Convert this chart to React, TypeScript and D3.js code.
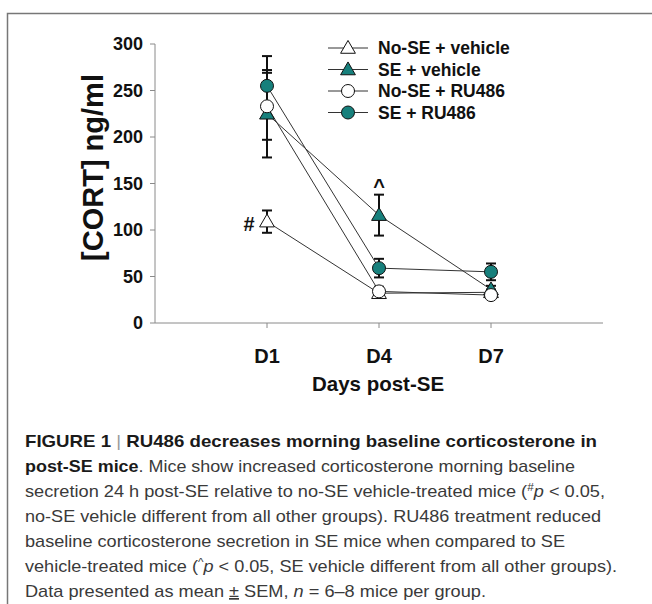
import React from "react";
import * as d3 from "d3";

const days = ["D1", "D4", "D7"];
const yTicks = [0, 50, 100, 150, 200, 250, 300];

const seriesNames = ["No-SE + vehicle", "SE + vehicle", "No-SE + RU486", "SE + RU486"];
const noSeVehicle = [109, 32, 33];
const noSeVehicleErr = [12, 3, 3];
const seVehicle = [225, 116, 36];
const seVehicleErr = [47, 22, 4];
const noSeRu = [233, 34, 30];
const noSeRuErr = [36, 5, 3];
const seRu = [255, 59, 55];
const seRuErr = [32, 10, 9];

const captionLines = [
  [{ t: "FIGURE 1 ", b: true }, { t: "|", b: false, c: "#999" }, { t: " RU486 decreases morning baseline corticosterone in", b: true }],
  [{ t: "post-SE mice", b: true }, { t: ". Mice show increased corticosterone morning baseline", b: false }],
  [{ t: "secretion 24 h post-SE relative to no-SE vehicle-treated mice (", b: false }, { t: "#", b: false, sup: true }, { t: "p", b: false, i: true, back: true }, { t: " < 0.05,", b: false }],
  [{ t: "no-SE vehicle different from all other groups). RU486 treatment reduced", b: false }],
  [{ t: "baseline corticosterone secretion in SE mice when compared to SE", b: false }],
  [{ t: "vehicle-treated mice (", b: false }, { t: "^", b: false, sup: true }, { t: "p", b: false, i: true, back: true }, { t: " < 0.05, SE vehicle different from all other groups).", b: false }],
  [{ t: "Data presented as mean ", b: false }, { t: "±", b: false, u: true }, { t: " SEM, ", b: false }, { t: "n", b: false, i: true }, { t: " = 6–8 mice per group.", b: false }],
];
const captionWidths = [572, 550, 580, 576, 540, 592, 461];

const TEAL = "#17807c";

export default function App() {
  const x = d3.scalePoint<string>().domain(days).range([155, 603]).padding(1);
  const y = d3.scaleLinear().domain([0, 300]).range([323, 44]);
  const font = "'Liberation Sans', Arial, sans-serif";

  const series = [
    { name: seriesNames[0], vals: noSeVehicle, err: noSeVehicleErr, shape: "tri", fill: "#fff" },
    { name: seriesNames[1], vals: seVehicle, err: seVehicleErr, shape: "tri", fill: TEAL },
    { name: seriesNames[2], vals: noSeRu, err: noSeRuErr, shape: "circ", fill: "#fff" },
    { name: seriesNames[3], vals: seRu, err: seRuErr, shape: "circ", fill: TEAL },
  ];

  const line = d3
    .line<number>()
    .x((_, i) => x(days[i]) as number)
    .y((d) => y(d));

  const marker = (shape: string, fill: string, cx: number, cy: number, key: string) =>
    shape === "circ" ? (
      <circle key={key} cx={cx} cy={cy} r={6.5} fill={fill} stroke="#111" strokeWidth={1} />
    ) : (
      <path
        key={key}
        d={d3.symbol().type(d3.symbolTriangle).size(95)() as string}
        transform={`translate(${cx},${cy + 1})`}
        fill={fill}
        stroke="#111"
        strokeWidth={1}
      />
    );

  const legendY = (i: number) => 48 + i * 21.5;

  return (
    <svg width={652} height={604} style={{ position: "absolute", left: 0, top: 0 }}>
      <rect x={0} y={0} width={652} height={604} fill="#fff" />
      {/* border */}
      <path d="M7.5,604 L7.5,13.5 L652,13.5" fill="none" stroke="#777" strokeWidth={1.5} />

      {/* axes */}
      <g stroke="#8a8a8a" strokeWidth={1} fill="none">
        <line x1={155} x2={155} y1={y(300)} y2={y(0)} />
        <line x1={155} x2={603} y1={y(0)} y2={y(0)} />
        {yTicks.map((t) => (
          <line key={t} x1={150} x2={155} y1={y(t)} y2={y(t)} />
        ))}
        {days.map((d) => (
          <line key={d} x1={x(d)} x2={x(d)} y1={y(0)} y2={y(0) + 5} />
        ))}
      </g>
      <g fontFamily={font} fontWeight="bold" fill="#111">
        {yTicks.map((t) => (
          <text key={t} x={143} y={y(t)} dy="0.36em" textAnchor="end" fontSize={18}>
            {t}
          </text>
        ))}
        {days.map((d) => (
          <text key={d} x={x(d)} y={356} dy="0.36em" textAnchor="middle" fontSize={20}>
            {d}
          </text>
        ))}
        <text x={378} y={384} dy="0.36em" textAnchor="middle" fontSize={20.5}>
          Days post-SE
        </text>
        <text
          transform={`translate(93,${(y(0) + y(300)) / 2 - 16}) rotate(-90)`}
          textAnchor="middle"
          dy="0.36em"
          fontSize={29}
        >
          [CORT] ng/ml
        </text>
        <text x={249} y={224} dy="0.36em" textAnchor="middle" fontSize={20}>
          #
        </text>
        <text x={x("D4")} y={186} dy="0.36em" textAnchor="middle" fontSize={20}>
          ^
        </text>
      </g>

      {/* lines */}
      <g fill="none" stroke="#333" strokeWidth={1}>
        {series.map((s) => (
          <path key={s.name} d={line(s.vals) as string} />
        ))}
      </g>

      {/* error bars */}
      <g stroke="#111" strokeWidth={2}>
        {series.map((s) =>
          s.vals.map((v, i) => {
            const cx = x(days[i]) as number;
            const top = y(v + s.err[i]);
            const bot = y(v - s.err[i]);
            return (
              <g key={s.name + i}>
                <line x1={cx} x2={cx} y1={top} y2={bot} />
                <line x1={cx - 5} x2={cx + 5} y1={top} y2={top} />
                <line x1={cx - 5} x2={cx + 5} y1={bot} y2={bot} />
              </g>
            );
          })
        )}
      </g>

      {/* markers */}
      {series.map((s) => s.vals.map((v, i) => marker(s.shape, s.fill, x(days[i]) as number, y(v), s.name + "m" + i)))}

      {/* legend */}
      {series.map((s, i) => (
        <g key={"lg" + i}>
          <line x1={328} x2={368} y1={legendY(i)} y2={legendY(i)} stroke="#333" strokeWidth={1} />
          {marker(s.shape, s.fill, 348, legendY(i), "lm" + i)}
          <text x={378} y={legendY(i)} dy="0.36em" fontFamily={font} fontWeight="bold" fontSize={17.5} fill="#111">
            {s.name}
          </text>
        </g>
      ))}

      {/* caption */}
      <g fontFamily={font} fontSize={17} fill="#3a3a3a">
        {captionLines.map((ln, li) => (
          <text
            key={li}
            x={25}
            y={447 + li * 25}
            textLength={captionWidths[li]}
            lengthAdjust="spacingAndGlyphs"
          >
            {ln.map((p: any, pi: number) => (
              <tspan
                key={pi}
                fontWeight={p.b ? "bold" : "normal"}
                fontStyle={p.i ? "italic" : "normal"}
                fill={p.c ? p.c : p.b ? "#1a1a1a" : "#3a3a3a"}
                fontSize={p.sup ? 11 : 17}
                dy={p.sup ? -6 : p.back ? 6 : 0}
                textDecoration={p.u ? "underline" : undefined}
              >
                {p.t}
              </tspan>
            ))}
          </text>
        ))}
      </g>
    </svg>
  );
}
